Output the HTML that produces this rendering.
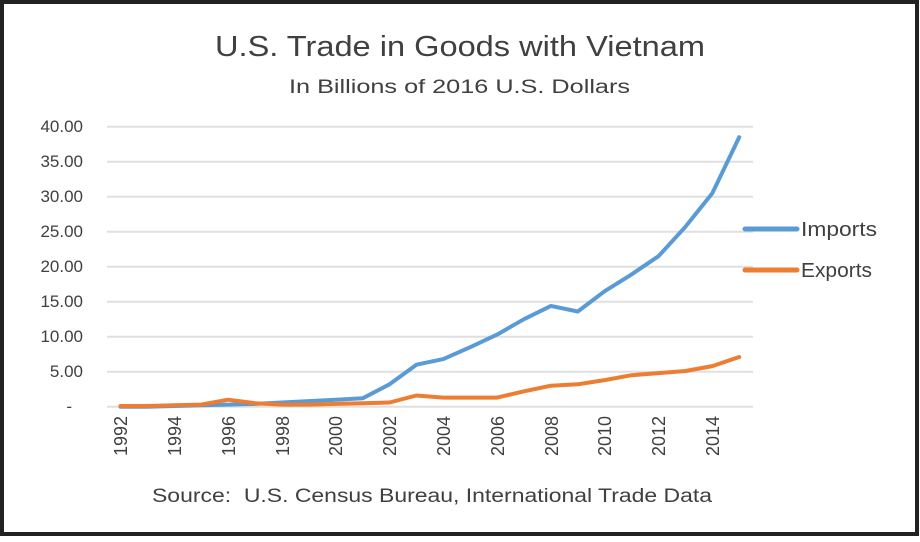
<!DOCTYPE html>
<html><head><style>
html,body{margin:0;padding:0;background:#fff;}
body{width:920px;height:537px;overflow:hidden;}
</style></head><body>
<svg width="920" height="537" xmlns="http://www.w3.org/2000/svg" font-family="Liberation Sans, sans-serif">
<rect x="2" y="2" width="915" height="532" fill="#fff" stroke="#222" stroke-width="4"/>
<text x="215" y="56" font-size="29" fill="#404040" textLength="490" lengthAdjust="spacingAndGlyphs">U.S. Trade in Goods with Vietnam</text>
<text x="289" y="93" font-size="19" fill="#404040" textLength="341" lengthAdjust="spacingAndGlyphs">In Billions of 2016 U.S. Dollars</text>
<g stroke="#e0e0e0" stroke-width="2">
<line x1="107" x2="753" y1="126.7" y2="126.7"/><line x1="107" x2="753" y1="161.7" y2="161.7"/>
<line x1="107" x2="753" y1="196.7" y2="196.7"/><line x1="107" x2="753" y1="231.7" y2="231.7"/>
<line x1="107" x2="753" y1="266.7" y2="266.7"/><line x1="107" x2="753" y1="301.7" y2="301.7"/>
<line x1="107" x2="753" y1="336.7" y2="336.7"/><line x1="107" x2="753" y1="371.7" y2="371.7"/>
<line x1="107" x2="753" y1="406.7" y2="406.7"/>
</g>
<g font-size="17" fill="#404040" text-anchor="end">
<text x="83" y="132">40.00</text><text x="83" y="167">35.00</text><text x="83" y="202">30.00</text>
<text x="83" y="237">25.00</text><text x="83" y="272">20.00</text><text x="83" y="307">15.00</text>
<text x="83" y="342">10.00</text><text x="83" y="377">5.00</text><text x="72" y="412">-</text>
</g>
<g font-size="18" fill="#404040" text-anchor="end">
<text transform="translate(127,416) rotate(-90)">1992</text>
<text transform="translate(181,416) rotate(-90)">1994</text>
<text transform="translate(235,416) rotate(-90)">1996</text>
<text transform="translate(289,416) rotate(-90)">1998</text>
<text transform="translate(342,416) rotate(-90)">2000</text>
<text transform="translate(396,416) rotate(-90)">2002</text>
<text transform="translate(450,416) rotate(-90)">2004</text>
<text transform="translate(504,416) rotate(-90)">2006</text>
<text transform="translate(558,416) rotate(-90)">2008</text>
<text transform="translate(611,416) rotate(-90)">2010</text>
<text transform="translate(665,416) rotate(-90)">2012</text>
<text transform="translate(719,416) rotate(-90)">2014</text>
</g>
<polyline fill="none" stroke="#5b9bd5" stroke-width="4" stroke-linejoin="round" stroke-linecap="round"
points="120.5,406.7 147.4,406.7 174.3,406 201.2,405.3 228.1,404.6 255,403.9 281.9,402.5 308.8,401.1 335.7,399.7 362.6,398.3 389.5,384.3 416.4,364.7 443.3,359.1 470.2,347.2 497.1,334.6 524,319.2 550.9,305.9 577.8,311.5 604.7,291.2 631.6,274.4 658.5,256.2 685.4,226.8 712.3,193.2 739.2,137.2"/>
<polyline fill="none" stroke="#ed7d31" stroke-width="4" stroke-linejoin="round" stroke-linecap="round"
points="120.5,406 147.4,406 174.3,405.3 201.2,404.6 228.1,399.7 255,403.2 281.9,404.6 308.8,404.6 335.7,403.9 362.6,403.2 389.5,402.5 416.4,395.5 443.3,397.6 470.2,397.6 497.1,397.6 524,391.3 550.9,385.7 577.8,384.3 604.7,380.1 631.6,375.2 658.5,373.1 685.4,371 712.3,366.1 739.2,357"/>
<line x1="745" x2="797" y1="229" y2="229" stroke="#5b9bd5" stroke-width="5" stroke-linecap="round"/>
<line x1="745" x2="797" y1="270" y2="270" stroke="#ed7d31" stroke-width="5" stroke-linecap="round"/>
<text x="801" y="236" font-size="20" fill="#404040" textLength="76" lengthAdjust="spacingAndGlyphs">Imports</text>
<text x="801" y="277" font-size="20" fill="#404040" textLength="71" lengthAdjust="spacingAndGlyphs">Exports</text>
<text x="152" y="502" font-size="19" fill="#404040" textLength="560" lengthAdjust="spacingAndGlyphs" xml:space="preserve">Source:  U.S. Census Bureau, International Trade Data</text>
</svg>
</body></html>
